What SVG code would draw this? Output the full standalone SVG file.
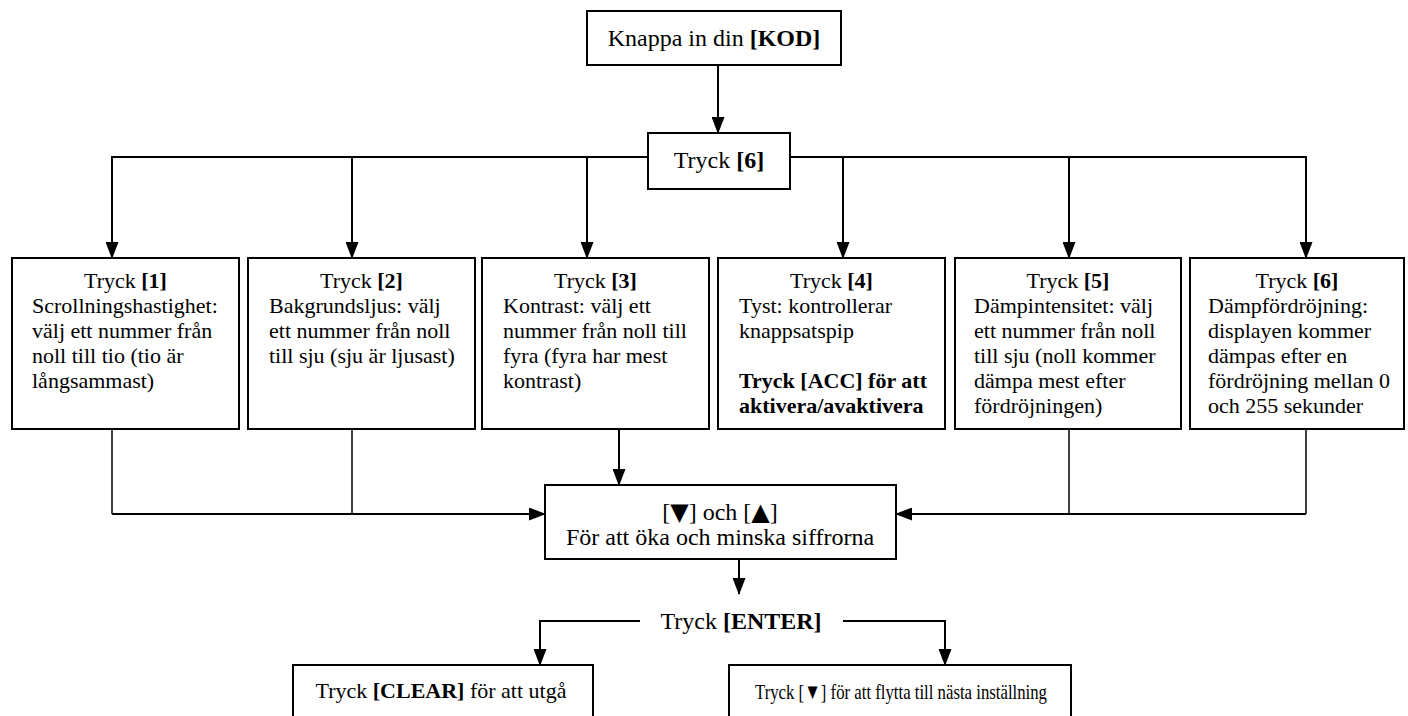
<svg xmlns="http://www.w3.org/2000/svg" width="1408" height="716" viewBox="0 0 1408 716">
<style>
  .box { fill: #fff; stroke: #000; stroke-width: 2; }
  .t { font-family: "Liberation Serif", "Times New Roman", serif; font-size: 22px; fill: #000; }
  .big { font-size: 24px; }
  .c { text-anchor: middle; }
  .b { font-weight: bold; }
  .sym { font-family: "DejaVu Sans", sans-serif; }
  .ln { fill: none; stroke: #000; stroke-width: 2; }
  .thin { fill: none; stroke: #000; stroke-width: 1.5; }
</style>
<defs>
  <marker id="ar" markerUnits="userSpaceOnUse" markerWidth="17" markerHeight="13" viewBox="0 0 17 13" refX="16" refY="6.5" orient="auto">
    <path d="M0,0 L17,6.5 L0,13 Z" fill="#000"/>
  </marker>
</defs>
<rect width="1408" height="716" fill="#fff"/>

<g id="connectors">
  <line class="ln" x1="718" y1="65" x2="718" y2="133" marker-end="url(#ar)"/>
  <polyline class="ln" points="648,157 112,157 112,258" marker-end="url(#ar)"/>
  <polyline class="ln" points="352,157 352,258" marker-end="url(#ar)"/>
  <polyline class="ln" points="587,157 587,258" marker-end="url(#ar)"/>
  <polyline class="ln" points="790,157 1306,157 1306,258" marker-end="url(#ar)"/>
  <polyline class="ln" points="843,157 843,258" marker-end="url(#ar)"/>
  <polyline class="ln" points="1069,157 1069,258" marker-end="url(#ar)"/>
  <polyline class="thin" points="112,429 112,514"/>
  <polyline class="thin" points="352,429 352,514"/>
  <line class="ln" x1="112" y1="514" x2="545" y2="514" marker-end="url(#ar)"/>
  <line class="ln" x1="619" y1="429" x2="619" y2="485" marker-end="url(#ar)"/>
  <polyline class="thin" points="1069,429 1069,514"/>
  <polyline class="thin" points="1306,429 1306,514"/>
  <line class="ln" x1="1306" y1="514" x2="896" y2="514" marker-end="url(#ar)"/>
  <line class="ln" x1="739" y1="559" x2="739" y2="594" marker-end="url(#ar)"/>
  <polyline class="ln" points="640,621 540,621 540,665" marker-end="url(#ar)"/>
  <polyline class="ln" points="843,621 945,621 945,665" marker-end="url(#ar)"/>
</g>

<g id="n-kod">
  <rect class="box" x="587" y="11" width="254" height="54"/>
  <text class="t big c" x="714" y="46">Knappa in din <tspan class="b">[KOD]</tspan></text>
</g>

<g id="n-tryck6">
  <rect class="box" x="648" y="133" width="142" height="56"/>
  <text class="t big c" x="719" y="168">Tryck <tspan class="b">[6]</tspan></text>
</g>

<g id="n-1">
  <rect class="box" x="12" y="258" width="227" height="171"/>
  <text class="t c" x="125.5" y="288">Tryck <tspan class="b">[1]</tspan></text>
  <text class="t" x="32" y="313">Scrollningshastighet:</text>
  <text class="t" x="32" y="338">välj ett nummer från</text>
  <text class="t" x="32" y="363">noll till tio (tio är</text>
  <text class="t" x="32" y="388">långsammast)</text>
</g>

<g id="n-2">
  <rect class="box" x="248" y="258" width="227" height="171"/>
  <text class="t c" x="361.5" y="288">Tryck <tspan class="b">[2]</tspan></text>
  <text class="t" x="269" y="313">Bakgrundsljus: välj</text>
  <text class="t" x="269" y="338">ett nummer från noll</text>
  <text class="t" x="269" y="363">till sju (sju är ljusast)</text>
</g>

<g id="n-3">
  <rect class="box" x="482" y="258" width="227" height="171"/>
  <text class="t c" x="595.5" y="288">Tryck <tspan class="b">[3]</tspan></text>
  <text class="t" x="503" y="313">Kontrast: välj ett</text>
  <text class="t" x="503" y="338">nummer från noll till</text>
  <text class="t" x="503" y="363">fyra (fyra har mest</text>
  <text class="t" x="503" y="388">kontrast)</text>
</g>

<g id="n-4">
  <rect class="box" x="718" y="258" width="227" height="171"/>
  <text class="t c" x="831.5" y="288">Tryck <tspan class="b">[4]</tspan></text>
  <text class="t" x="739" y="313">Tyst: kontrollerar</text>
  <text class="t" x="739" y="338">knappsatspip</text>
  <text class="t b" x="739" y="388">Tryck [ACC] för att</text>
  <text class="t b" x="739" y="413">aktivera/avaktivera</text>
</g>

<g id="n-5">
  <rect class="box" x="955" y="258" width="226" height="171"/>
  <text class="t c" x="1068" y="288">Tryck <tspan class="b">[5]</tspan></text>
  <text class="t" x="974" y="313">Dämpintensitet: välj</text>
  <text class="t" x="974" y="338">ett nummer från noll</text>
  <text class="t" x="974" y="363">till sju (noll kommer</text>
  <text class="t" x="974" y="388">dämpa mest efter</text>
  <text class="t" x="974" y="413">fördröjningen)</text>
</g>

<g id="n-6">
  <rect class="box" x="1190" y="258" width="214" height="171"/>
  <text class="t c" x="1297" y="288">Tryck <tspan class="b">[6]</tspan></text>
  <text class="t" x="1208" y="313">Dämpfördröjning:</text>
  <text class="t" x="1208" y="338">displayen kommer</text>
  <text class="t" x="1208" y="363">dämpas efter en</text>
  <text class="t" x="1208" y="388">fördröjning mellan 0</text>
  <text class="t" x="1208" y="413">och 255 sekunder</text>
</g>

<g id="n-pilar">
  <rect class="box" x="545" y="485" width="351" height="74"/>
  <text class="t big c" x="720" y="520">[<tspan class="sym">▼</tspan>] och [<tspan class="sym">▲</tspan>]</text>
  <text class="t big c" x="720" y="545">För att öka och minska siffrorna</text>
</g>

<g id="n-enter">
  <text class="t big c" x="741" y="629">Tryck <tspan class="b">[ENTER]</tspan></text>
</g>

<g id="n-clear">
  <rect class="box" x="293" y="665" width="300" height="70"/>
  <text class="t c" x="441" y="698">Tryck <tspan class="b">[CLEAR]</tspan> för att utgå</text>
</g>

<g id="n-next">
  <rect class="box" x="729" y="665" width="342" height="70"/>
  <text class="t" x="755" y="699" textLength="292" lengthAdjust="spacingAndGlyphs">Tryck [▼] för att flytta till nästa inställning</text>
</g>
</svg>
